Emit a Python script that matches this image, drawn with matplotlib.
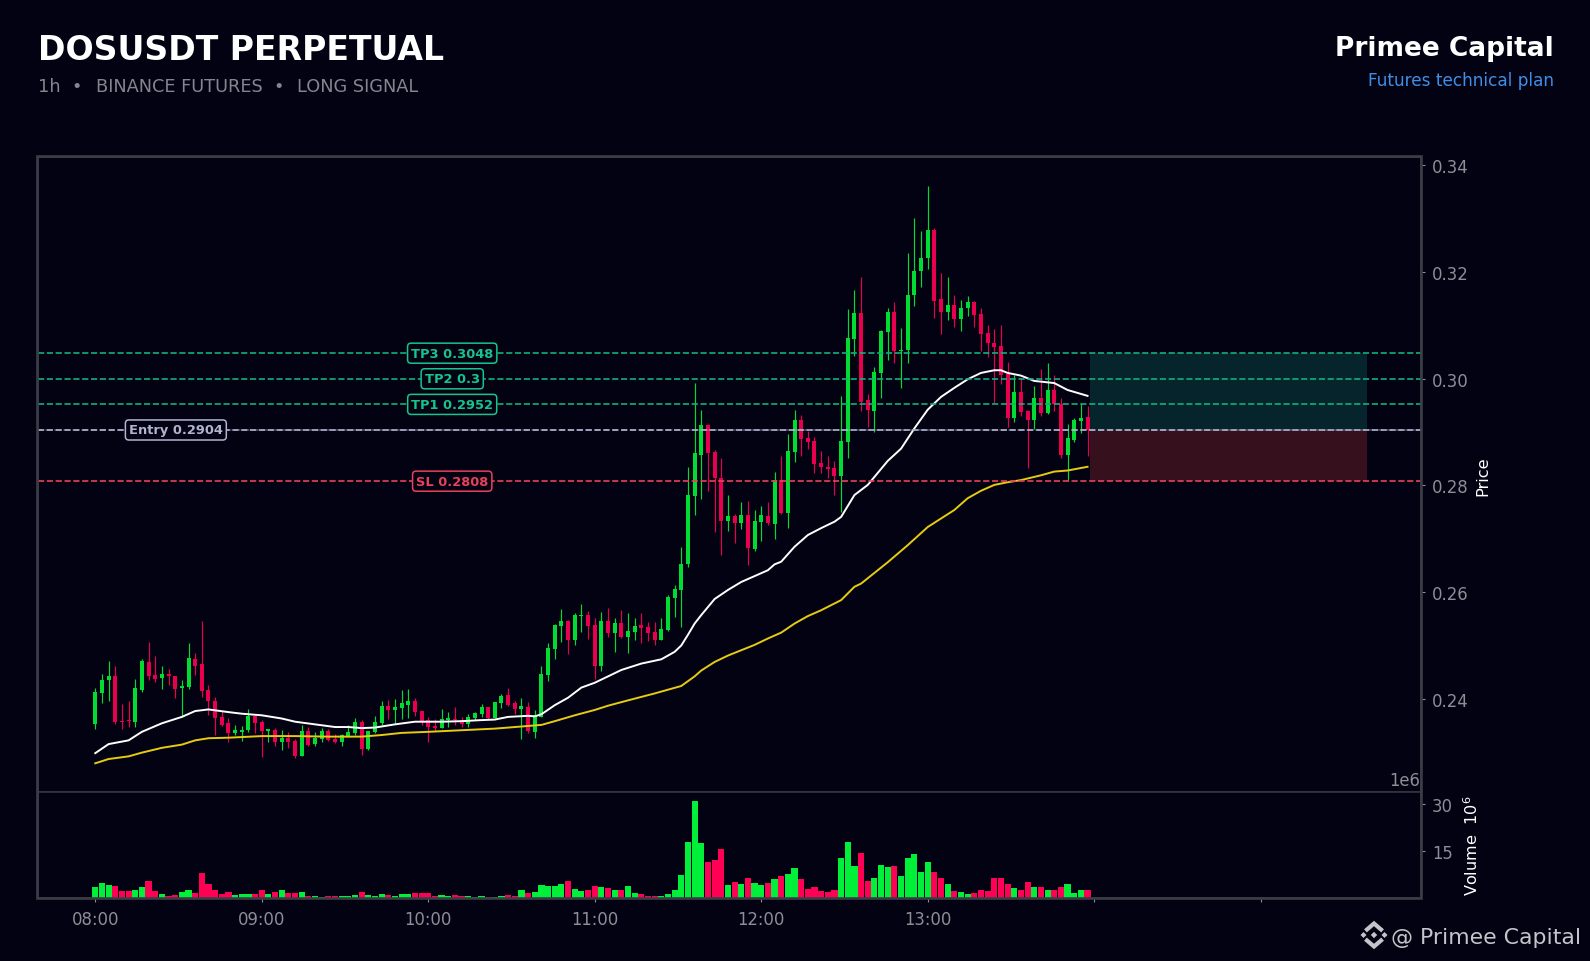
import matplotlib
matplotlib.use("Agg")
import matplotlib.pyplot as plt
from matplotlib.patches import Polygon, Rectangle
from matplotlib.lines import Line2D
from matplotlib.transforms import Affine2D

BG = '#030212'
W, H = 1590, 962

opens = [.2352,.2411,.2435,.2442,.2358,.2360,.2356,.2416,.2469,.2444,.2439,.2446,.2442,.2420,.2422,.2474,.2465,.2416,.2396,.2366,
         .2354,.2336,.2337,.2341,.2367,.2356,.2339,.2341,.2319,.2326,.2321,.2292,.2339,.2315,.2324,.2339,.2324,.2319,.2330,.2336,
         .2356,.2305,.2337,.2354,.2386,.2379,.2382,.2388,.2396,.2377,.2360,.2349,.2345,.2360,.2361,.2361,.2352,.2364,.2371,.2384,
         .2364,.2392,.2407,.2392,.2380,.2384,.2337,.2366,.2444,.2493,.2536,.2546,.2510,.2555,.2557,.2538,.2461,.2546,.2523,.2542,
         .2516,.2525,.2538,.2534,.2525,.2510,.2529,.2589,.2604,.2652,.2780,.2857,.2913,.2862,.2814,.2733,.2742,.2729,.2744,.2681,
         .2731,.2742,.2727,.2810,.2748,.2862,.2922,.2889,.2883,.2842,.2834,.2832,.2817,.2881,.3074,.3123,.2960,.2939,.3011,.3087,
         .3125,.3052,.3054,.3157,.3202,.3226,.3279,.3149,.3125,.3138,.3112,.3132,.3144,.3121,.3086,.3067,.3061,.3009,.2926,.2975,
         .2939,.2922,.2964,.2936,.2979,.2952,.2857,.2885,.2921,.2928]
highs = [.2421,.2447,.2471,.2461,.2390,.2395,.2438,.2475,.2506,.2480,.2461,.2455,.2442,.2435,.2504,.2485,.2546,.2426,.2404,.2377,
         .2364,.2350,.2349,.2380,.2369,.2360,.2343,.2345,.2341,.2337,.2324,.2351,.2347,.2337,.2345,.2343,.2333,.2334,.2351,.2364,
         .2361,.2339,.2367,.2395,.2397,.2400,.2416,.2419,.2401,.2377,.2365,.2362,.2380,.2376,.2384,.2366,.2372,.2376,.2390,.2385,
         .2394,.2409,.2421,.2396,.2402,.2394,.2379,.2461,.2504,.2540,.2568,.2547,.2561,.2577,.2564,.2552,.2562,.2571,.2552,.2566,
         .2560,.2551,.2561,.2544,.2544,.2552,.2594,.2613,.2684,.2835,.2993,.2941,.2916,.2867,.2851,.2783,.2747,.2769,.2771,.2754,
         .2761,.2769,.2825,.2855,.2896,.2942,.2932,.2902,.2890,.2864,.2855,.2845,.2967,.3130,.3166,.3191,.2972,.3023,.3091,.3132,
         .3144,.3096,.3235,.3301,.3278,.3361,.3282,.3198,.3190,.3158,.3147,.3156,.3146,.3132,.3101,.3094,.3101,.3031,.3007,.3001,
         .2941,.2987,.3018,.3029,.3008,.2964,.2916,.2926,.2954,.2949]
lows = [.2344,.2392,.2396,.2352,.2344,.2347,.2347,.2413,.2435,.2431,.2419,.2426,.2402,.2366,.2419,.2444,.2403,.2369,.2332,.2349,
        .2319,.2332,.2321,.2337,.2336,.2291,.2319,.2311,.2304,.2307,.2289,.2292,.2311,.2311,.2319,.2321,.2317,.2311,.2329,.2332,
        .2294,.2304,.2335,.2351,.2362,.2355,.2362,.2364,.2367,.2351,.2319,.2339,.2345,.2347,.2351,.2347,.2347,.2360,.2366,.2362,
        .2363,.2382,.2386,.2372,.2324,.2336,.2326,.2366,.2434,.2474,.2507,.2484,.2501,.2525,.2512,.2437,.2452,.2516,.2488,.2514,
        .2485,.2510,.2504,.2508,.2500,.2510,.2527,.2554,.2535,.2647,.2744,.2775,.2790,.2713,.2669,.2715,.2692,.2719,.2651,.2677,
        .2696,.2726,.2700,.2747,.2720,.2844,.2855,.2868,.2823,.2823,.2814,.2782,.2750,.2852,.3043,.2939,.2909,.2901,.2964,.3035,
        .3029,.2983,.3030,.3137,.3172,.3206,.3114,.3084,.3110,.3097,.3090,.3117,.3097,.3052,.3041,.2954,.2991,.2909,.2919,.2930,
        .2832,.2906,.2930,.2934,.2939,.2851,.2809,.2881,.2899,.2855]
closes = [.2412,.2435,.2442,.2356,.2356,.2358,.2420,.2471,.2442,.2437,.2446,.2442,.2418,.2424,.2476,.2461,.2414,.2396,.2364,.2351,
          .2336,.2341,.2341,.2367,.2354,.2339,.2343,.2319,.2326,.2319,.2292,.2339,.2313,.2326,.2339,.2322,.2319,.2332,.2337,.2356,
          .2305,.2339,.2356,.2386,.2379,.2384,.2392,.2396,.2375,.2356,.2347,.2345,.2362,.2364,.2360,.2352,.2366,.2373,.2384,.2364,
          .2394,.2405,.2388,.2380,.2386,.2339,.2369,.2446,.2495,.2538,.2546,.2510,.2557,.2557,.2536,.2461,.2546,.2523,.2542,.2516,
          .2527,.2536,.2532,.2523,.2510,.2531,.2591,.2606,.2652,.2782,.2861,.2913,.2861,.2814,.2733,.2742,.2729,.2744,.2682,.2733,
          .2744,.2729,.2810,.2748,.2864,.2922,.2887,.2881,.2840,.2834,.2830,.2817,.2883,.3076,.3123,.2956,.2941,.3012,.3089,.3125,
          .3052,.3054,.3157,.3202,.3226,.3279,.3146,.3125,.3138,.3112,.3132,.3144,.3119,.3084,.3067,.3059,.3007,.2926,.2975,.2937,
          .2922,.2964,.2936,.2979,.2952,.2857,.2889,.2922,.2926,.2904]
volumes = [3.6,4.9,4.2,3.9,2.3,2.3,2.6,3.6,5.5,2.3,1.4,0.7,1.1,2.0,2.6,1.7,8.0,4.5,2.6,1.4,
           2.0,1.1,1.4,1.4,1.4,2.6,1.4,2.0,2.6,1.7,1.7,2.0,0.7,0.7,0.4,0.7,0.7,0.7,0.7,1.1,
           2.0,1.1,0.7,1.4,1.1,0.7,1.4,1.4,1.7,1.7,1.7,0.7,1.1,0.7,1.1,0.7,0.7,0.4,0.7,0.4,
           0.4,0.7,1.1,0.7,2.6,1.7,2.0,4.2,3.9,3.9,4.5,5.5,3.0,2.3,2.6,3.9,3.6,3.3,2.6,2.6,
           3.9,1.7,1.4,0.7,0.7,0.7,1.4,2.6,7.4,17.8,30.8,17.5,11.5,12.1,15.6,4.2,5.2,4.5,6.4,4.9,
           4.2,4.9,6.1,7.1,7.7,9.6,6.1,3.0,3.6,2.3,2.0,2.6,12.8,17.8,10.2,14.4,5.5,6.4,10.6,9.9,
           10.2,7.1,12.8,14.0,8.3,11.5,8.3,6.4,4.5,2.3,2.0,1.4,1.7,2.6,2.3,6.4,6.4,4.5,3.3,2.6,
           5.2,3.6,3.6,2.6,2.6,3.6,4.5,1.7,2.6,2.6]

ema_fast_idx = [0,2,5,7,10,13,15,17,20,22,25,28,30,33,36,38,40,42,43,45,48,52,55,58,60,62,65,66,67,69,71,73,75,77,79,82,85,87,88,89,
                90,91,93,95,97,99,101,102,103,105,107,109,111,112,114,116,119,121,123,125,127,129,131,133,135,136,137,139,141,144,146,149]
ema_fast = [.2298,.2315,.2322,.2338,.2354,.2366,.2377,.2380,.2375,.2372,.2369,.2363,.2357,.2352,.2347,.2347,.2345,.2346,.2348,.2352,
            .2357,.2357,.2358,.2360,.2361,.2366,.2368,.2367,.2371,.2388,.2402,.2421,.2430,.2442,.2454,.2466,.2474,.2488,.2500,.2520,
            .2541,.2557,.2587,.2604,.2619,.2630,.2641,.2652,.2657,.2685,.2707,.2720,.2732,.2741,.2782,.2801,.2846,.2869,.2907,.2942,
            .2966,.2983,.2999,.3011,.3016,.3016,.3011,.3006,.2996,.2992,.2979,.2968]
ema_slow_idx = [0,2,5,7,10,13,15,17,20,25,30,35,38,40,43,46,50,55,60,65,67,69,72,75,77,80,84,88,90,91,93,95,97,99,101,103,105,107,109,112,
                114,115,119,122,125,127,129,131,133,135,137,139,142,144,146,149]
ema_slow = [.2279,.2287,.2292,.2299,.2308,.2314,.2322,.2326,.2327,.2330,.2330,.2329,.2329,.2329,.2332,.2336,.2338,.2341,.2344,.2349,
            .2351,.2358,.2369,.2379,.2387,.2397,.2410,.2424,.2442,.2453,.2469,.2481,.2491,.2501,.2513,.2524,.2541,.2555,.2566,.2585,
            .2610,.2616,.2656,.2688,.2722,.2738,.2754,.2776,.2790,.2801,.2806,.2810,.2819,.2826,.2828,.2835]

tick_positions = [0,25,50,75,100,125,150,175]
tick_labels = ['08:00','09:00','10:00','11:00','12:00','13:00','','']
price_ticks = [0.24,0.26,0.28,0.30,0.32,0.34]
volume_ticks = [15,30]
levels = [('TP3 0.3048',0.3048,'#12b07c',53.6),('TP2 0.3',0.3000,'#12b07c',53.6),('TP1 0.2952',0.2952,'#12b07c',53.6),
          ('Entry 0.2904',0.2904,'#b0b4d0',12.1),('SL 0.2808',0.2808,'#e8405c',53.6)]
entry, stop, target = 0.2904, 0.2808, 0.3048
plan_start, plan_end = 149.4, 191.0

UP, DOWN = '#00dc32', '#e8004e'
VUP, VDOWN = '#00f03a', '#ff0055'
GREY = '#8e8e96'

fig = plt.figure(figsize=(W/100, H/100), dpi=100, facecolor=BG)
L, R = 38/W, 1420.5/W
TOP, MID, BOT = 158.2, 793.2, 899.0
ax = fig.add_axes([L, 1-MID/H, R-L, (MID-TOP)/H], facecolor=BG)
vax = fig.add_axes([L, 1-BOT/H, R-L, (BOT-MID)/H], facecolor=BG, sharex=ax)

n = len(opens)
for i in range(n):
    up = closes[i] >= opens[i]
    c = UP if up else DOWN
    ax.vlines(i, lows[i], highs[i], color=c, lw=0.85, zorder=3)
    lo, hi = min(opens[i], closes[i]), max(opens[i], closes[i])
    ax.bar(i, max(hi-lo, 0.0002), bottom=lo, width=0.6, color=c, lw=0, zorder=3.2)
    vax.bar(i, volumes[i], width=0.92, color=VUP if up else VDOWN, lw=0, zorder=3)

ax.add_patch(Rectangle((plan_start, entry), plan_end-plan_start, target-entry, fc='#06242c', ec='none', zorder=1))
ax.add_patch(Rectangle((plan_start, stop), plan_end-plan_start, entry-stop, fc='#36101c', ec='none', zorder=1))

ax.plot(ema_fast_idx, ema_fast, color='white', lw=1.4, zorder=4)
ax.plot(ema_slow_idx, ema_slow, color='#e6cc10', lw=1.4, zorder=4)

for text, val, col, xpos in levels:
    ax.axhline(val, color=col, lw=1.2, ls='--', zorder=5)
    if text.startswith('Entry'):
        ax.axhline(val, color=col, lw=1.2, ls=(1.0, (3.7, 1.7)), alpha=0.4, zorder=5)
    tcol = '#16c48c' if text.startswith('TP') else col
    ax.text(xpos, val, text, color=tcol, fontsize=9.4, fontweight='bold', ha='center', va='center', zorder=6,
            bbox=dict(boxstyle='round,pad=0.27', fc=BG, ec=tcol, lw=1.1))

ax.set_xlim(-8.6, 199.0)
ax.set_ylim(0.22248, 0.34155)
vax.set_ylim(0, 33.6)

for a in (ax, vax):
    a.yaxis.tick_right()
    for s in a.spines.values():
        s.set_color('#33363e')
        s.set_linewidth(1.2)
    a.yaxis.set_label_position('right')
    a.tick_params(axis='y', colors=GREY, labelsize=11.9, length=3, width=0.8, pad=5.2)

ax.set_yticks(price_ticks)
ax.set_yticklabels([f'{p:.2f}' for p in price_ticks])
ax.tick_params(axis='x', bottom=False, labelbottom=False)
vax.set_yticks(volume_ticks)
vax.set_yticklabels([str(v) for v in volume_ticks])
vax.set_xticks(tick_positions)
vax.set_xticklabels(tick_labels)
vax.tick_params(axis='x', colors=GREY, labelsize=11.9, length=3, width=0.8, pad=6)

ax.set_ylabel('Price', color='white', fontsize=11.6)
ax.yaxis.set_label_coords(1.0400, 0.5)
vax.set_ylabel('Volume  $10^{6}$', color='white', fontsize=11.6)
vax.yaxis.set_label_coords(1.0299, 0.5)
vax.text(0.9995, 1.03, '1e6', transform=vax.transAxes, color=GREY, fontsize=11.9, ha='right', va='bottom')

# pixel helper for decoration
px = Affine2D().scale(1/W, -1/H).translate(0, 1) + fig.transFigure
fig.add_artist(Rectangle((36.7, 157), 1421.3-36.7, 898.9-157, fill=False, ec='#3a3d46', lw=1.9, transform=px, zorder=10))

def label(x, y, s, **kw):
    fig.text(x/W, 1-y/H, s, va='baseline', **kw)

SUB = '#85858e'
label(38, 60.5, 'DOSUSDT PERPETUAL', color='white', fontsize=23.9, fontweight='bold')
label(38.5, 92.5, '1h', color=SUB, fontsize=12.8)
label(77, 92.5, '•', color=SUB, fontsize=12.8, ha='center')
label(95.5, 92.5, 'BINANCE FUTURES', color=SUB, fontsize=12.8)
label(279, 92.5, '•', color=SUB, fontsize=12.8, ha='center')
label(297, 92.5, 'LONG SIGNAL', color=SUB, fontsize=12.8)
label(1554, 56, 'Primee Capital', color='white', fontsize=19, fontweight='bold', ha='right')
label(1554, 86, 'Futures technical plan', color='#3f8fe6', fontsize=12.2, ha='right')
label(1581, 944, '@ Primee Capital', color='#c4c4ca', fontsize=15.8, ha='right')

cx, cy = 1374, 936
logo = '#c4c4ca'
for dx, dy, r in [(0, 0, 3.2), (-10.5, 0, 3.0), (10.5, 0, 3.0)]:
    fig.add_artist(Polygon([(cx+dx-r, cy+dy), (cx+dx, cy+dy-r), (cx+dx+r, cy+dy), (cx+dx, cy+dy+r)],
                           closed=True, fc=logo, ec='none', transform=px))
for sign in (-1, 1):
    fig.add_artist(Line2D([cx-7, cx, cx+7], [cy+sign*5.5, cy+sign*11.5, cy+sign*5.5],
                          color=logo, lw=3, solid_joinstyle='miter', transform=px))

fig.savefig('out.png', dpi=100, facecolor=BG)
